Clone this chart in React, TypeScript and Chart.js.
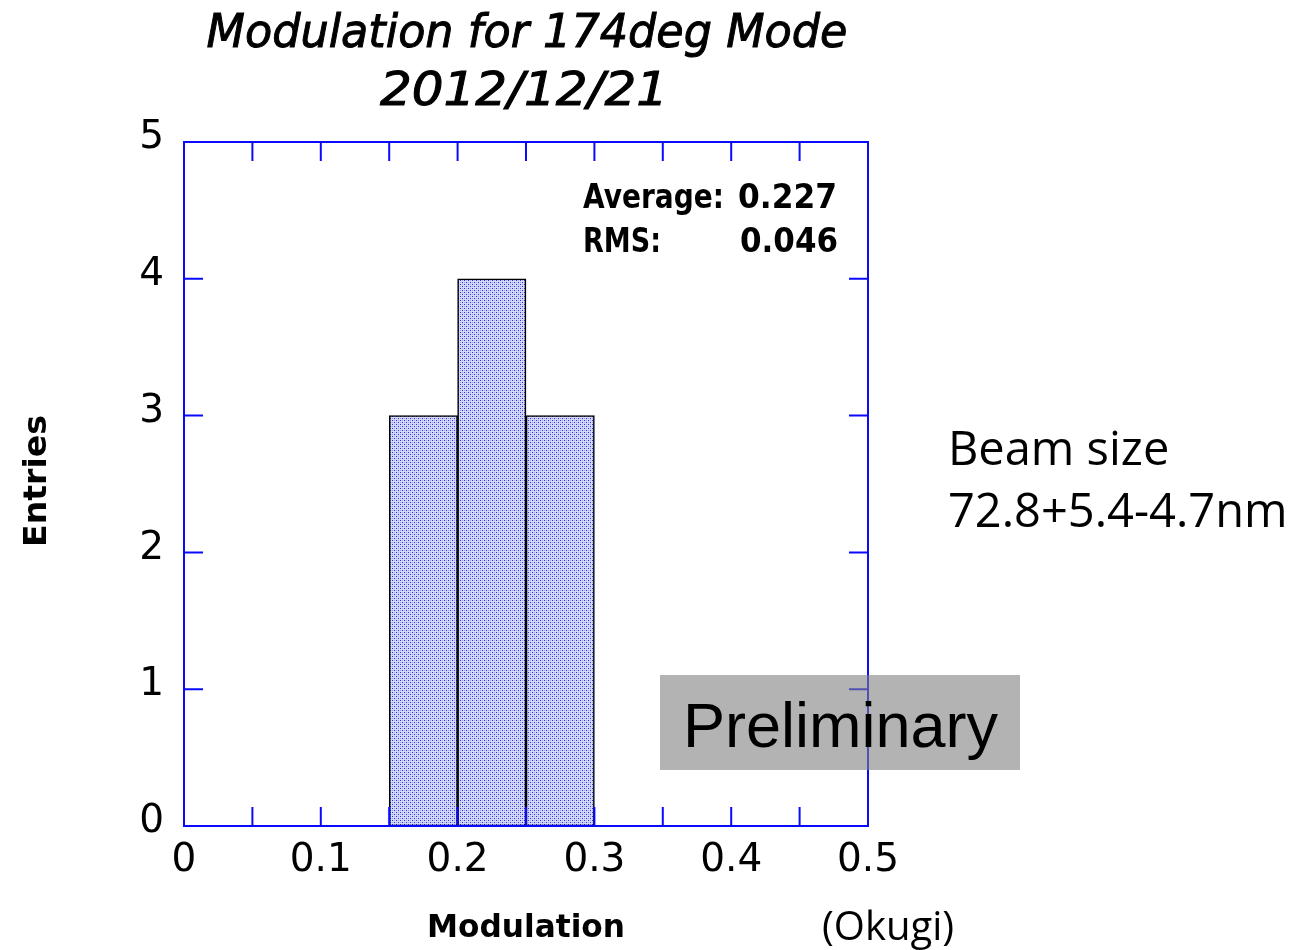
import { useEffect, useRef } from "react";
import { Chart, registerables } from "chart.js";

Chart.register(...registerables);

// Histogram bins (edges) and their entry counts
const binEdges = [0.15, 0.2, 0.25, 0.3];
const binCounts = [3, 4, 3];

// Axis ranges and labels
const xMin = 0;
const xMax = 0.5;
const xMinorStep = 0.05;
const xTickLabels = ["0", "0.1", "0.2", "0.3", "0.4", "0.5"];
const yMin = 0;
const yMax = 5;
const yTickLabels = ["0", "1", "2", "3", "4", "5"];

// Text content
const titleLines = ["Modulation for 174deg Mode", "2012/12/21"];
const xAxisTitle = "Modulation";
const yAxisTitle = "Entries";
const statLabels = ["Average:", "RMS:"];
const statValues = ["0.227", "0.046"];
const beamLines = ["Beam size", "72.8+5.4-4.7nm"];
const creditText = "(Okugi)";
const stampText = "Preliminary";

const FRAME = "#0a0aff";

function makeDotPattern(): CanvasPattern | string {
  const c = document.createElement("canvas");
  c.width = 4;
  c.height = 4;
  const g = c.getContext("2d");
  if (!g) return "#a8aef0";
  g.fillStyle = "#d6daf9";
  g.fillRect(0, 0, 4, 4);
  g.fillStyle = "#969cf0";
  g.fillRect(2, 0, 1, 1);
  g.fillRect(0, 2, 1, 1);
  g.fillStyle = "#2a2aee";
  g.fillRect(0, 0, 1, 1);
  g.fillRect(2, 2, 1, 1);
  const p = g.createPattern(c, "repeat");
  return p || "#a8aef0";
}

// Draws text stretched/condensed horizontally to span a given width
function fitText(
  ctx: CanvasRenderingContext2D,
  text: string,
  x: number,
  y: number,
  width: number,
  align: "left" | "right" | "center",
  strokeWidth = 0
) {
  const w = ctx.measureText(text).width;
  const s = width / w;
  const x0 = align === "left" ? x : align === "right" ? x - width : x - width / 2;
  ctx.save();
  ctx.translate(x0, y);
  ctx.scale(s, 1);
  ctx.textAlign = "left";
  ctx.fillText(text, 0, 0);
  if (strokeWidth > 0) {
    ctx.lineWidth = strokeWidth;
    ctx.strokeStyle = ctx.fillStyle as string;
    ctx.strokeText(text, 0, 0);
  }
  ctx.restore();
}

const framePlugin = {
  id: "histFrame",
  afterDatasetsDraw(chart: any) {
    const { ctx, chartArea } = chart;
    const xs = chart.scales.x;
    const ys = chart.scales.y;
    const { left, right, top, bottom } = chartArea;
    const tick = 19;
    ctx.save();
    ctx.strokeStyle = FRAME;
    ctx.lineWidth = 2;
    ctx.strokeRect(left, top, right - left, bottom - top);
    ctx.beginPath();
    const nX = Math.round((xMax - xMin) / xMinorStep);
    for (let i = 1; i < nX; i++) {
      const px = xs.getPixelForValue(xMin + i * xMinorStep);
      ctx.moveTo(px, bottom);
      ctx.lineTo(px, bottom - tick);
      ctx.moveTo(px, top);
      ctx.lineTo(px, top + tick);
    }
    for (let v = yMin + 1; v < yMax; v++) {
      const py = ys.getPixelForValue(v);
      ctx.moveTo(left, py);
      ctx.lineTo(left + tick, py);
      ctx.moveTo(right, py);
      ctx.lineTo(right - tick, py);
    }
    ctx.stroke();
    ctx.restore();
  },
  afterDraw(chart: any) {
    const { ctx, chartArea } = chart;
    const cx = (chartArea.left + chartArea.right) / 2;
    ctx.save();
    ctx.fillStyle = "#000";
    ctx.textBaseline = "alphabetic";

    // Title
    ctx.font = "oblique 46px 'DejaVu Sans'";
    fitText(ctx, titleLines[0], cx + 1, 47, 641, "center", 1);
    fitText(ctx, titleLines[1], cx - 2, 105, 288, "center", 1);

    // Statistics box
    ctx.font = "bold 34px 'DejaVu Sans'";
    fitText(ctx, statLabels[0], 583, 208, 141, "left");
    fitText(ctx, statValues[0], 837, 208, 99, "right");
    fitText(ctx, statLabels[1], 583, 252, 78, "left");
    fitText(ctx, statValues[1], 838, 252, 98, "right");

    // Axis titles
    ctx.font = "bold 32px 'DejaVu Sans'";
    fitText(ctx, xAxisTitle, cx, 937, 198, "center");
    ctx.save();
    ctx.translate(46, 481);
    ctx.rotate(-Math.PI / 2);
    fitText(ctx, yAxisTitle, 0, 0, 132, "center");
    ctx.restore();

    // Side notes
    ctx.font = "47px 'Open Sans'";
    ctx.textAlign = "left";
    ctx.fillText(beamLines[0], 948, 465);
    ctx.fillText(beamLines[1], 948, 527);
    ctx.font = "40px 'Open Sans'";
    ctx.fillText(creditText, 822, 940);

    // Stamp
    ctx.fillStyle = "rgba(128,128,128,0.6)";
    ctx.fillRect(660, 675, 360, 95);
    ctx.fillStyle = "#000";
    ctx.font = "63px 'Liberation Sans'";
    fitText(ctx, stampText, 683, 747, 315, "left");
    ctx.restore();
  },
};

export default function App() {
  const canvasRef = useRef<HTMLCanvasElement | null>(null);

  useEffect(() => {
    const canvas = canvasRef.current;
    if (!canvas) return;
    const points = binCounts.map((c, i) => ({
      x: (binEdges[i] + binEdges[i + 1]) / 2,
      y: c,
    }));
    const chart = new Chart(canvas, {
      type: "bar",
      data: {
        datasets: [
          {
            data: points,
            backgroundColor: makeDotPattern() as any,
            borderColor: "#000",
            borderWidth: 1.6,
            borderSkipped: false,
            barPercentage: 1,
            categoryPercentage: 1,
          },
        ],
      },
      options: {
        responsive: false,
        animation: false,
        devicePixelRatio: 1,
        layout: { padding: { top: 142, right: 436, left: 0, bottom: 0 } },
        plugins: {
          legend: { display: false },
          title: { display: false },
          tooltip: { enabled: false },
        },
        scales: {
          x: {
            type: "linear",
            min: xMin,
            max: xMax,
            offset: false,
            grid: { display: false, drawTicks: false },
            border: { display: false },
            ticks: {
              stepSize: 0.1,
              autoSkip: false,
              maxRotation: 0,
              padding: 11,
              color: "#000",
              font: { family: "'DejaVu Sans'", size: 39 },
              callback: (_v: any, i: number) => xTickLabels[i],
            },
            afterFit: (s: any) => {
              s.height = 124;
            },
          },
          y: {
            type: "linear",
            min: yMin,
            max: yMax,
            grid: { display: false, drawTicks: false },
            border: { display: false },
            ticks: {
              stepSize: 1,
              padding: 20,
              labelOffset: -4,
              color: "#000",
              font: { family: "'DejaVu Sans'", size: 39 },
              callback: (_v: any, i: number) => yTickLabels[i],
            },
            afterFit: (s: any) => {
              s.width = 184;
            },
          },
        },
      },
      plugins: [framePlugin],
    });
    return () => chart.destroy();
  }, []);

  return (
    <div style={{ position: "absolute", left: 0, top: 0, width: 1304, height: 950, background: "#fff" }}>
      <canvas ref={canvasRef} width={1304} height={950} />
    </div>
  );
}
